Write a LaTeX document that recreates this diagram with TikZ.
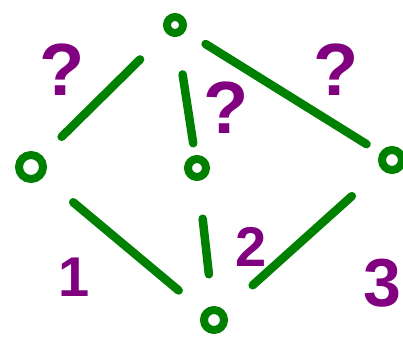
\documentclass[tikz,border=0pt]{standalone}
\usepackage{fontspec}
\setmainfont{Liberation Sans}
\usepackage{tikz}

\definecolor{pengreen}{RGB}{0,128,0}
\definecolor{penpurple}{RGB}{128,0,128}

\begin{document}
\begin{tikzpicture}[
        x=1pt, y=-1pt,
        vertex/.style={
            draw=pengreen,
            circle,
            line width=8pt,
            minimum size=16pt,
            inner sep=0pt
        },
        link/.style={
            draw=pengreen,
            line width=8.5pt,
            line cap=round
        },
        weight/.style={
            text=penpurple,
            font=\fontsize{56}{56}\selectfont\bfseries,
            inner sep=0pt
        },
        unknown/.style={
            text=penpurple,
            font=\fontsize{74}{74}\selectfont\bfseries,
            inner sep=0pt
        }
    ]
        \useasboundingbox (0,0) rectangle (403,337);

        \node[vertex] (top) at (175,25) {};
        \node[vertex, minimum size=24pt] (left) at (31,167) {};
        \node[vertex, minimum size=18pt] (mid) at (197,168) {};
        \node[vertex, minimum size=20pt] (right) at (392,160) {};
        \node[vertex, minimum size=20pt] (bottom) at (214,320) {};

        \draw[link, shorten <=37pt, shorten >=27pt] (top) -- (left);
        \draw[link, shorten <=38pt, shorten >=12pt] (top) -- (mid);
        \draw[link, shorten <=24pt, shorten >=16pt] (top) -- (right);
        \draw[link, shorten <=39pt, shorten >=32pt] (left) -- (bottom);
        \draw[link, shorten <=38pt, shorten >=32pt] (mid) -- (bottom);
        \draw[link, shorten <=40pt, shorten >=38pt] (right) -- (bottom);

        \node[unknown] (q1) at (62,70) {?};
        \node[unknown] (q2) at (226,108) {?};
        \node[unknown] (q3) at (336,70) {?};
        \node[weight] (w1) at (74,277) {1};
        \node[weight] (w2) at (251,247) {2};
        \node[weight, font=\fontsize{68}{68}\selectfont\bfseries] (w3) at (382,283) {3};
    \end{tikzpicture}
\end{document}
